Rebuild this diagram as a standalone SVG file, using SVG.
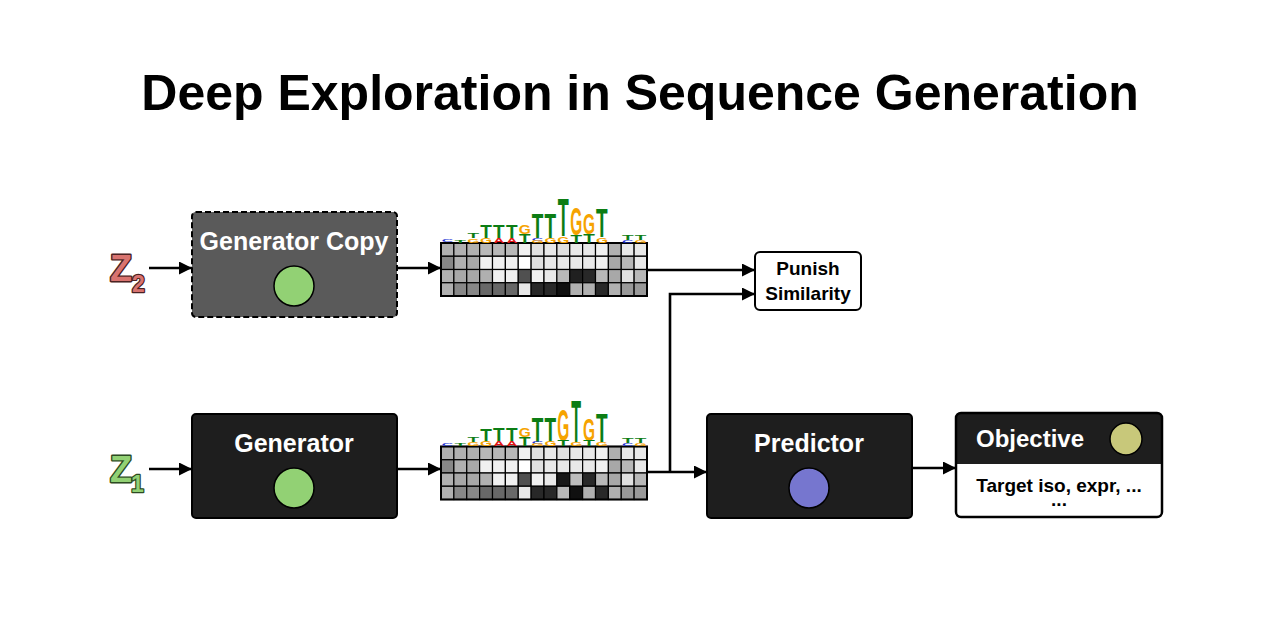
<svg xmlns="http://www.w3.org/2000/svg" width="1280" height="640" viewBox="0 0 1280 640">
<defs>
<marker id="ah" markerUnits="userSpaceOnUse" markerWidth="14" markerHeight="14" refX="13" refY="6.5" orient="auto"><path d="M0,0 L13,6.5 L0,13 z" fill="#000"/></marker>
<style>
text{font-family:"Liberation Sans",Arial,sans-serif;font-weight:bold}
.title{font-size:50px;fill:#000;text-anchor:middle}
.wt{fill:#fff;font-size:25px;text-anchor:middle}
.bt{fill:#000;font-size:19px;text-anchor:middle}
.box{stroke:#000;stroke-width:2}
.dark{fill:#1e1e1e}
.conn path{fill:none;stroke:#000;stroke-width:2.6;marker-end:url(#ah)}
.cell rect{stroke:#000;stroke-width:1.2}
.lt{font-size:10px;text-anchor:middle}
.T{fill:#0c7d14}.G{fill:#f6a300}.A{fill:#e01414}.C{fill:#2436d6}
.zl{font-size:36px;stroke-width:2.8;paint-order:stroke;stroke-linejoin:round}
.zs{font-size:23px;stroke-width:2.4;paint-order:stroke;stroke-linejoin:round}
</style>
</defs>
<rect width="1280" height="640" fill="#fff"/>
<text class="title" x="640" y="110">Deep Exploration in Sequence Generation</text>

<g id="z2">
<text class="zl" x="110" y="281" fill="#d9736f" stroke="#4a2222">Z</text>
<text class="zs" x="132" y="292" fill="#d9736f" stroke="#4a2222">2</text>
</g>
<g id="z1">
<text class="zl" x="110" y="482" fill="#92d174" stroke="#2c4a22">Z</text>
<text class="zs" x="131" y="492" fill="#92d174" stroke="#2c4a22">1</text>
</g>

<g id="generator-copy">
<rect x="192" y="212" width="205" height="105" rx="4" fill="#5a5a5a" stroke="#000" stroke-width="2" stroke-dasharray="6,3"/>
<text class="wt" x="294" y="250">Generator Copy</text>
<circle cx="294" cy="286" r="20" fill="#92d174" stroke="#000" stroke-width="1.5"/>
</g>

<g id="generator">
<rect class="box dark" x="192" y="414" width="205" height="104" rx="4"/>
<text class="wt" x="294" y="452">Generator</text>
<circle cx="294" cy="488" r="20" fill="#92d174" stroke="#000" stroke-width="1.5"/>
</g>

<g id="seq-top">
<g class="cell">
<rect x="441" y="243" width="12.875" height="13.25" fill="#b0b0b0"/><rect x="453.875" y="243" width="12.875" height="13.25" fill="#b0b0b0"/><rect x="466.75" y="243" width="12.875" height="13.25" fill="#b0b0b0"/><rect x="479.625" y="243" width="12.875" height="13.25" fill="#b8b8b8"/><rect x="492.5" y="243" width="12.875" height="13.25" fill="#b8b8b8"/><rect x="505.375" y="243" width="12.875" height="13.25" fill="#b8b8b8"/><rect x="518.25" y="243" width="12.875" height="13.25" fill="#f0f0f0"/><rect x="531.125" y="243" width="12.875" height="13.25" fill="#e0e0e0"/><rect x="544" y="243" width="12.875" height="13.25" fill="#e8e8e8"/><rect x="556.875" y="243" width="12.875" height="13.25" fill="#e0e0e0"/><rect x="569.75" y="243" width="12.875" height="13.25" fill="#e8e8e8"/><rect x="582.625" y="243" width="12.875" height="13.25" fill="#e8e8e8"/><rect x="595.5" y="243" width="12.875" height="13.25" fill="#f0f0f0"/><rect x="608.375" y="243" width="12.875" height="13.25" fill="#b0b0b0"/><rect x="621.25" y="243" width="12.875" height="13.25" fill="#e8e8e8"/><rect x="634.125" y="243" width="12.875" height="13.25" fill="#e8e8e8"/>
<rect x="441" y="256.25" width="12.875" height="13.25" fill="#888"/><rect x="453.875" y="256.25" width="12.875" height="13.25" fill="#b0b0b0"/><rect x="466.75" y="256.25" width="12.875" height="13.25" fill="#a8a8a8"/><rect x="479.625" y="256.25" width="12.875" height="13.25" fill="#f0f0f0"/><rect x="492.5" y="256.25" width="12.875" height="13.25" fill="#f0f0f0"/><rect x="505.375" y="256.25" width="12.875" height="13.25" fill="#f0f0f0"/><rect x="518.25" y="256.25" width="12.875" height="13.25" fill="#fff"/><rect x="531.125" y="256.25" width="12.875" height="13.25" fill="#e0e0e0"/><rect x="544" y="256.25" width="12.875" height="13.25" fill="#e8e8e8"/><rect x="556.875" y="256.25" width="12.875" height="13.25" fill="#e8e8e8"/><rect x="569.75" y="256.25" width="12.875" height="13.25" fill="#e8e8e8"/><rect x="582.625" y="256.25" width="12.875" height="13.25" fill="#e8e8e8"/><rect x="595.5" y="256.25" width="12.875" height="13.25" fill="#f0f0f0"/><rect x="608.375" y="256.25" width="12.875" height="13.25" fill="#a8a8a8"/><rect x="621.25" y="256.25" width="12.875" height="13.25" fill="#b8b8b8"/><rect x="634.125" y="256.25" width="12.875" height="13.25" fill="#e8e8e8"/>
<rect x="441" y="269.5" width="12.875" height="13.25" fill="#b0b0b0"/><rect x="453.875" y="269.5" width="12.875" height="13.25" fill="#a8a8a8"/><rect x="466.75" y="269.5" width="12.875" height="13.25" fill="#a8a8a8"/><rect x="479.625" y="269.5" width="12.875" height="13.25" fill="#b0b0b0"/><rect x="492.5" y="269.5" width="12.875" height="13.25" fill="#f0f0f0"/><rect x="505.375" y="269.5" width="12.875" height="13.25" fill="#f0f0f0"/><rect x="518.25" y="269.5" width="12.875" height="13.25" fill="#505050"/><rect x="531.125" y="269.5" width="12.875" height="13.25" fill="#f0f0f0"/><rect x="544" y="269.5" width="12.875" height="13.25" fill="#e8e8e8"/><rect x="556.875" y="269.5" width="12.875" height="13.25" fill="#b8b8b8"/><rect x="569.75" y="269.5" width="12.875" height="13.25" fill="#202020"/><rect x="582.625" y="269.5" width="12.875" height="13.25" fill="#282828"/><rect x="595.5" y="269.5" width="12.875" height="13.25" fill="#b8b8b8"/><rect x="608.375" y="269.5" width="12.875" height="13.25" fill="#a8a8a8"/><rect x="621.25" y="269.5" width="12.875" height="13.25" fill="#e0e0e0"/><rect x="634.125" y="269.5" width="12.875" height="13.25" fill="#b8b8b8"/>
<rect x="441" y="282.75" width="12.875" height="13.25" fill="#b0b0b0"/><rect x="453.875" y="282.75" width="12.875" height="13.25" fill="#888"/><rect x="466.75" y="282.75" width="12.875" height="13.25" fill="#888"/><rect x="479.625" y="282.75" width="12.875" height="13.25" fill="#686868"/><rect x="492.5" y="282.75" width="12.875" height="13.25" fill="#686868"/><rect x="505.375" y="282.75" width="12.875" height="13.25" fill="#686868"/><rect x="518.25" y="282.75" width="12.875" height="13.25" fill="#e8e8e8"/><rect x="531.125" y="282.75" width="12.875" height="13.25" fill="#282828"/><rect x="544" y="282.75" width="12.875" height="13.25" fill="#282828"/><rect x="556.875" y="282.75" width="12.875" height="13.25" fill="#101010"/><rect x="569.75" y="282.75" width="12.875" height="13.25" fill="#b0b0b0"/><rect x="582.625" y="282.75" width="12.875" height="13.25" fill="#b0b0b0"/><rect x="595.5" y="282.75" width="12.875" height="13.25" fill="#282828"/><rect x="608.375" y="282.75" width="12.875" height="13.25" fill="#b0b0b0"/><rect x="621.25" y="282.75" width="12.875" height="13.25" fill="#999"/><rect x="634.125" y="282.75" width="12.875" height="13.25" fill="#999"/>
</g>
<rect x="441" y="243" width="206" height="53" fill="none" stroke="#000" stroke-width="2"/>
<g class="lt">
<text class="C" transform="translate(447.4,242) scale(1.6,0.42)">C</text>
<text class="T" transform="translate(460.3,242.5) scale(1.9,0.28)">T</text>
<text class="T" transform="translate(473.2,238) scale(1.9,0.7)">T</text>
<text class="G" transform="translate(473.2,242.5) scale(1.55,0.56)">G</text>
<text class="T" transform="translate(486.1,238) scale(1.9,1.82)">T</text>
<text class="G" transform="translate(486.1,242.5) scale(1.55,0.63)">G</text>
<text class="T" transform="translate(498.9,237.5) scale(1.9,1.75)">T</text>
<text class="A" transform="translate(498.9,242.5) scale(1.5,0.7)">A</text>
<text class="T" transform="translate(511.8,237.5) scale(1.9,1.75)">T</text>
<text class="A" transform="translate(511.8,242.5) scale(1.5,0.7)">A</text>
<text class="G" transform="translate(524.7,233.5) scale(1.55,1.19)">G</text>
<text class="T" transform="translate(524.7,242.5) scale(1.9,1.26)">T</text>
<text class="T" transform="translate(537.6,238) scale(1.9,3.49)">T</text>
<text class="C" transform="translate(537.6,240.5) scale(1.6,0.35)">C</text>
<text class="G" transform="translate(537.6,242.5) scale(1.55,0.28)">G</text>
<text class="T" transform="translate(550.4,238) scale(1.9,3.49)">T</text>
<text class="G" transform="translate(550.4,242.5) scale(1.55,0.63)">G</text>
<text class="T" transform="translate(563.3,236) scale(1.8,5.45)">T</text>
<text class="G" transform="translate(563.3,242.5) scale(1.55,0.91)">G</text>
<text class="G" transform="translate(576.2,234.5) scale(1.55,3.84)">G</text>
<text class="T" transform="translate(576.2,242.5) scale(1.9,1.12)">T</text>
<text class="G" transform="translate(589.1,233.5) scale(1.55,2.93)">G</text>
<text class="T" transform="translate(589.1,242.5) scale(1.9,1.26)">T</text>
<text class="T" transform="translate(601.9,237) scale(1.9,4.05)">T</text>
<text class="G" transform="translate(601.9,242.5) scale(1.55,0.77)">G</text>
<text class="T" transform="translate(627.7,239.5) scale(1.9,0.7)">T</text>
<text class="C" transform="translate(627.7,242.5) scale(1.6,0.42)">C</text>
<text class="T" transform="translate(640.6,239.5) scale(1.9,0.7)">T</text>
<text class="G" transform="translate(640.6,242.5) scale(1.55,0.42)">G</text>
</g>
</g>

<g id="seq-bottom">
<g class="cell">
<rect x="441" y="446.5" width="12.875" height="13.25" fill="#b0b0b0"/><rect x="453.875" y="446.5" width="12.875" height="13.25" fill="#b0b0b0"/><rect x="466.75" y="446.5" width="12.875" height="13.25" fill="#b0b0b0"/><rect x="479.625" y="446.5" width="12.875" height="13.25" fill="#b8b8b8"/><rect x="492.5" y="446.5" width="12.875" height="13.25" fill="#b8b8b8"/><rect x="505.375" y="446.5" width="12.875" height="13.25" fill="#b8b8b8"/><rect x="518.25" y="446.5" width="12.875" height="13.25" fill="#f0f0f0"/><rect x="531.125" y="446.5" width="12.875" height="13.25" fill="#e0e0e0"/><rect x="544" y="446.5" width="12.875" height="13.25" fill="#e8e8e8"/><rect x="556.875" y="446.5" width="12.875" height="13.25" fill="#e0e0e0"/><rect x="569.75" y="446.5" width="12.875" height="13.25" fill="#e8e8e8"/><rect x="582.625" y="446.5" width="12.875" height="13.25" fill="#e8e8e8"/><rect x="595.5" y="446.5" width="12.875" height="13.25" fill="#f0f0f0"/><rect x="608.375" y="446.5" width="12.875" height="13.25" fill="#b0b0b0"/><rect x="621.25" y="446.5" width="12.875" height="13.25" fill="#e8e8e8"/><rect x="634.125" y="446.5" width="12.875" height="13.25" fill="#e8e8e8"/>
<rect x="441" y="459.75" width="12.875" height="13.25" fill="#888"/><rect x="453.875" y="459.75" width="12.875" height="13.25" fill="#b0b0b0"/><rect x="466.75" y="459.75" width="12.875" height="13.25" fill="#a8a8a8"/><rect x="479.625" y="459.75" width="12.875" height="13.25" fill="#f0f0f0"/><rect x="492.5" y="459.75" width="12.875" height="13.25" fill="#f0f0f0"/><rect x="505.375" y="459.75" width="12.875" height="13.25" fill="#f0f0f0"/><rect x="518.25" y="459.75" width="12.875" height="13.25" fill="#fff"/><rect x="531.125" y="459.75" width="12.875" height="13.25" fill="#e0e0e0"/><rect x="544" y="459.75" width="12.875" height="13.25" fill="#e8e8e8"/><rect x="556.875" y="459.75" width="12.875" height="13.25" fill="#e8e8e8"/><rect x="569.75" y="459.75" width="12.875" height="13.25" fill="#e8e8e8"/><rect x="582.625" y="459.75" width="12.875" height="13.25" fill="#e8e8e8"/><rect x="595.5" y="459.75" width="12.875" height="13.25" fill="#f0f0f0"/><rect x="608.375" y="459.75" width="12.875" height="13.25" fill="#a8a8a8"/><rect x="621.25" y="459.75" width="12.875" height="13.25" fill="#b8b8b8"/><rect x="634.125" y="459.75" width="12.875" height="13.25" fill="#e8e8e8"/>
<rect x="441" y="473" width="12.875" height="13.25" fill="#b0b0b0"/><rect x="453.875" y="473" width="12.875" height="13.25" fill="#a8a8a8"/><rect x="466.75" y="473" width="12.875" height="13.25" fill="#a8a8a8"/><rect x="479.625" y="473" width="12.875" height="13.25" fill="#b0b0b0"/><rect x="492.5" y="473" width="12.875" height="13.25" fill="#f0f0f0"/><rect x="505.375" y="473" width="12.875" height="13.25" fill="#f0f0f0"/><rect x="518.25" y="473" width="12.875" height="13.25" fill="#505050"/><rect x="531.125" y="473" width="12.875" height="13.25" fill="#f0f0f0"/><rect x="544" y="473" width="12.875" height="13.25" fill="#e8e8e8"/><rect x="556.875" y="473" width="12.875" height="13.25" fill="#181818"/><rect x="569.75" y="473" width="12.875" height="13.25" fill="#bcbcbc"/><rect x="582.625" y="473" width="12.875" height="13.25" fill="#282828"/><rect x="595.5" y="473" width="12.875" height="13.25" fill="#b8b8b8"/><rect x="608.375" y="473" width="12.875" height="13.25" fill="#a8a8a8"/><rect x="621.25" y="473" width="12.875" height="13.25" fill="#e0e0e0"/><rect x="634.125" y="473" width="12.875" height="13.25" fill="#b8b8b8"/>
<rect x="441" y="486.25" width="12.875" height="13.25" fill="#b0b0b0"/><rect x="453.875" y="486.25" width="12.875" height="13.25" fill="#888"/><rect x="466.75" y="486.25" width="12.875" height="13.25" fill="#888"/><rect x="479.625" y="486.25" width="12.875" height="13.25" fill="#686868"/><rect x="492.5" y="486.25" width="12.875" height="13.25" fill="#686868"/><rect x="505.375" y="486.25" width="12.875" height="13.25" fill="#686868"/><rect x="518.25" y="486.25" width="12.875" height="13.25" fill="#e8e8e8"/><rect x="531.125" y="486.25" width="12.875" height="13.25" fill="#282828"/><rect x="544" y="486.25" width="12.875" height="13.25" fill="#282828"/><rect x="556.875" y="486.25" width="12.875" height="13.25" fill="#b8b8b8"/><rect x="569.75" y="486.25" width="12.875" height="13.25" fill="#101010"/><rect x="582.625" y="486.25" width="12.875" height="13.25" fill="#b0b0b0"/><rect x="595.5" y="486.25" width="12.875" height="13.25" fill="#282828"/><rect x="608.375" y="486.25" width="12.875" height="13.25" fill="#b0b0b0"/><rect x="621.25" y="486.25" width="12.875" height="13.25" fill="#999"/><rect x="634.125" y="486.25" width="12.875" height="13.25" fill="#999"/>
</g>
<rect x="441" y="446.5" width="206" height="53" fill="none" stroke="#000" stroke-width="2"/>
<g class="lt">
<text class="C" transform="translate(447.4,445.5) scale(1.6,0.42)">C</text>
<text class="T" transform="translate(460.3,446) scale(1.9,0.28)">T</text>
<text class="T" transform="translate(473.2,441.5) scale(1.9,0.7)">T</text>
<text class="G" transform="translate(473.2,446) scale(1.55,0.56)">G</text>
<text class="T" transform="translate(486.1,441.5) scale(1.9,1.82)">T</text>
<text class="G" transform="translate(486.1,446) scale(1.55,0.63)">G</text>
<text class="T" transform="translate(498.9,441) scale(1.9,1.75)">T</text>
<text class="A" transform="translate(498.9,446) scale(1.5,0.7)">A</text>
<text class="T" transform="translate(511.8,441) scale(1.9,1.75)">T</text>
<text class="A" transform="translate(511.8,446) scale(1.5,0.7)">A</text>
<text class="G" transform="translate(524.7,437) scale(1.55,1.19)">G</text>
<text class="T" transform="translate(524.7,446) scale(1.9,1.26)">T</text>
<text class="T" transform="translate(537.6,441.5) scale(1.9,3.49)">T</text>
<text class="C" transform="translate(537.6,444) scale(1.6,0.35)">C</text>
<text class="G" transform="translate(537.6,446) scale(1.55,0.28)">G</text>
<text class="T" transform="translate(550.4,441.5) scale(1.9,3.49)">T</text>
<text class="G" transform="translate(550.4,446) scale(1.55,0.63)">G</text>
<text class="G" transform="translate(563.3,440.5) scale(1.55,4.47)">G</text>
<text class="T" transform="translate(563.3,446) scale(1.9,0.84)">T</text>
<text class="T" transform="translate(576.2,442) scale(1.6,5.87)">T</text>
<text class="G" transform="translate(576.2,446) scale(1.55,0.56)">G</text>
<text class="G" transform="translate(589.1,440.5) scale(1.55,3.07)">G</text>
<text class="T" transform="translate(589.1,446) scale(1.9,0.84)">T</text>
<text class="T" transform="translate(601.9,442) scale(1.9,4.05)">T</text>
<text class="G" transform="translate(601.9,446) scale(1.55,0.56)">G</text>
<text class="T" transform="translate(627.7,443) scale(1.9,0.7)">T</text>
<text class="C" transform="translate(627.7,446) scale(1.6,0.42)">C</text>
<text class="T" transform="translate(640.6,443) scale(1.9,0.7)">T</text>
<text class="G" transform="translate(640.6,446) scale(1.55,0.42)">G</text>
</g>
</g>

<g id="punish-similarity">
<rect class="box" x="755" y="252" width="106" height="58" rx="5" fill="#fff"/>
<text class="bt" x="808" y="275">Punish</text>
<text class="bt" x="808" y="300">Similarity</text>
</g>

<g id="predictor">
<rect class="box dark" x="707" y="414" width="205" height="104" rx="4"/>
<text class="wt" x="809" y="452">Predictor</text>
<circle cx="809" cy="488" r="20" fill="#7676cf" stroke="#000" stroke-width="1.5"/>
</g>

<g id="objective">
<rect x="956" y="413" width="206" height="104" rx="5" fill="#fff"/>
<path d="M956,464 V418 a5,5 0 0 1 5,-5 H1157 a5,5 0 0 1 5,5 V464 z" fill="#1e1e1e"/>
<rect x="956" y="413" width="206" height="104" rx="5" fill="none" stroke="#000" stroke-width="2.5"/>
<text x="976" y="447" fill="#fff" font-size="24">Objective</text>
<circle cx="1126" cy="439" r="16" fill="#c8c87a" stroke="#000" stroke-width="1.5"/>
<text class="bt" x="1059" y="492" font-size="19.5">Target iso, expr, ...</text>
<text class="bt" x="1059" y="506">...</text>
</g>

<g id="connectors" class="conn">
<path d="M149,268 H192"/>
<path d="M149,469 H192"/>
<path d="M397,268 H441"/>
<path d="M397,469 H441"/>
<path d="M647,270 H755"/>
<path d="M647,472 H707"/>
<path d="M670,472 V294 H755"/>
<path d="M912,468 H956"/>
</g>
</svg>
